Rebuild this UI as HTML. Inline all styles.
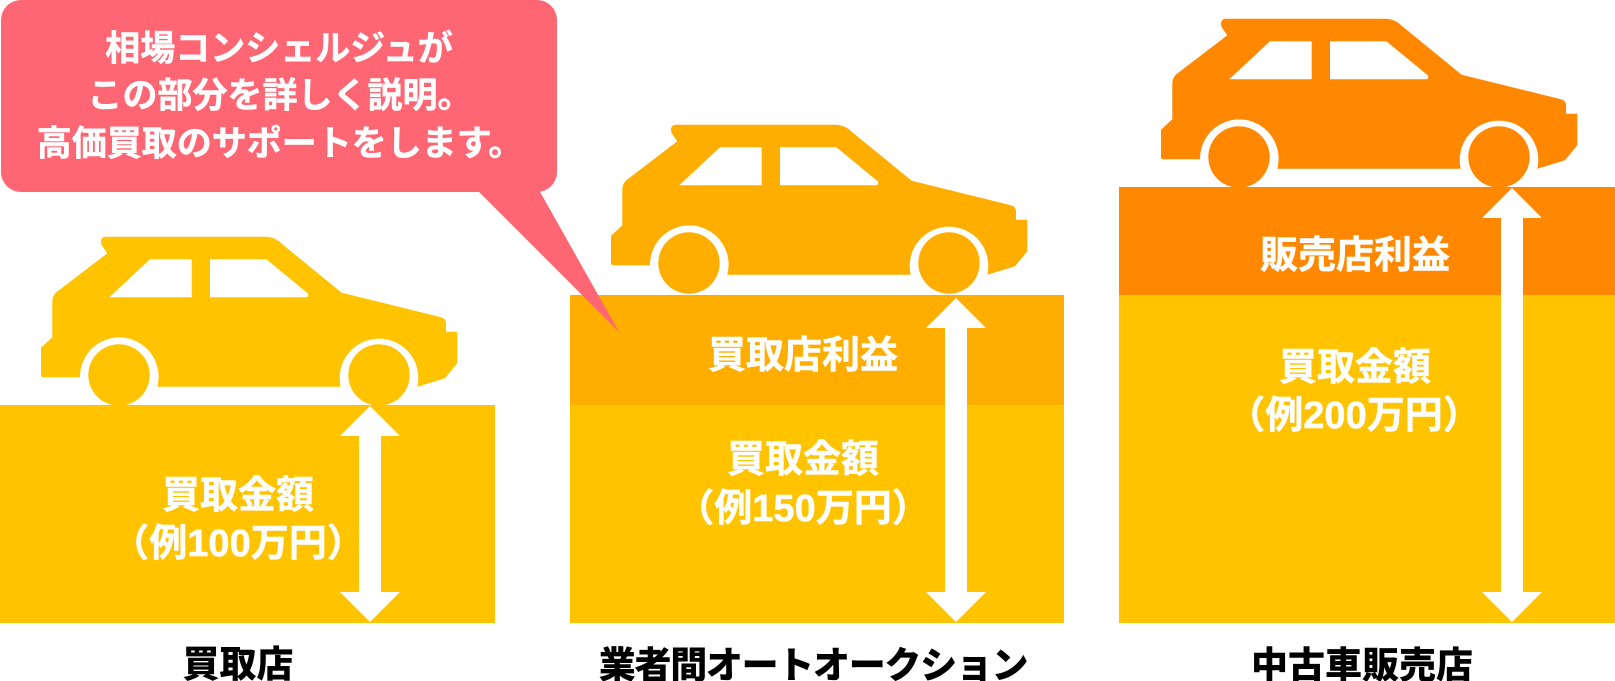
<!DOCTYPE html>
<html>
<head>
<meta charset="utf-8">
<style>
  html, body { margin: 0; padding: 0; background: #ffffff; }
  body { width: 1615px; height: 681px; overflow: hidden; }
  svg { display: block; }
  .w { fill: #ffffff; stroke: #ffffff; stroke-width: 0.5; font-family: "Liberation Sans", "Noto Sans CJK JP", sans-serif; font-weight: 700; }
  .b { fill: #000000; font-family: "Liberation Sans", "Noto Sans CJK JP", sans-serif; font-weight: 900; }
</style>
</head>
<body>
<svg width="1615" height="681" viewBox="0 0 1615 681" xmlns="http://www.w3.org/2000/svg">
  <defs>
    <path id="carbody" d="M106,236.7 L265,236.7 Q275,236.7 282,244 L341.7,292.7 L441,317.3 Q446,318.7 446,323.5 L446,331.7 L457.3,331.7 L457.3,363.3 L445,378.3 L417.3,386.7 A39.3,39.3 0 1 0 340.7,386.7 L157.3,386.7 A39.3,39.3 0 1 0 80,377.3 L43.5,377.3 Q41,377.3 41,375 L41,347.7 L52.3,337.3 L52.3,301.7 Q52.3,294.5 58.3,290.7 L107.3,253.3 L101.5,245 Q99.5,236.7 106,236.7 Z"/>
    <path id="carwin" d="M109.3,297.3 L150,259.3 L191.7,259.3 L191.7,297.3 Z M210,259.3 L265,259.3 Q267,259.3 268.5,261 L308,293.5 Q309,297.3 305.5,297.3 L210,297.3 Z"/>
  </defs>

  <!-- Panel 1 -->
  <rect x="0" y="405" width="495" height="218" fill="#FFC300"/>
  <!-- Panel 2 -->
  <rect x="570" y="295" width="494" height="110" fill="#FFAE00"/>
  <rect x="570" y="405" width="494" height="218" fill="#FFC300"/>
  <!-- Panel 3 -->
  <rect x="1119" y="187" width="496" height="108" fill="#FF8800"/>
  <rect x="1119" y="295" width="496" height="328" fill="#FFC300"/>

  <!-- Car 1 -->
  <g fill="#FFC300">
    <use href="#carbody"/>
    <use href="#carwin" fill="#ffffff"/>
    <circle cx="119" cy="375" r="30.7"/>
    <circle cx="379" cy="375" r="30.7"/>
  </g>
  <!-- Car 2 -->
  <g fill="#FFAE00" transform="translate(570,-112)">
    <use href="#carbody"/>
    <use href="#carwin" fill="#ffffff"/>
    <circle cx="119" cy="375" r="30.7"/>
    <circle cx="379" cy="375" r="30.7"/>
  </g>
  <!-- Car 3 -->
  <g fill="#FF8800" transform="translate(1120,-218)">
    <use href="#carbody"/>
    <use href="#carwin" fill="#ffffff"/>
    <circle cx="119" cy="375" r="30.7"/>
    <circle cx="379" cy="375" r="30.7"/>
  </g>

  <!-- Arrows -->
  <polygon fill="#ffffff" points="370,406 400,436 381,436 381,592 400,592 370,622 340,592 359,592 359,436 340,436"/>
  <polygon fill="#ffffff" points="956,298 986,328 967,328 967,592 986,592 956,622 926,592 945,592 945,328 926,328"/>
  <polygon fill="#ffffff" points="1512,188 1542,218 1523,218 1523,592 1542,592 1512,622 1482,592 1501,592 1501,218 1482,218"/>

  <!-- Panel texts -->
  <g class="w" font-size="38" text-anchor="middle">
    <text x="238" y="508">買取金額</text>
    <text x="238" y="556">（例100万円）</text>
    <text x="803" y="368">買取店利益</text>
    <text x="803" y="472">買取金額</text>
    <text x="803" y="521">（例150万円）</text>
    <text x="1355" y="268">販売店利益</text>
    <text x="1355" y="380">買取金額</text>
    <text x="1354" y="428">（例200万円）</text>
  </g>

  <!-- Bottom labels -->
  <g class="b" font-size="37" text-anchor="middle">
    <text x="238" y="677">買取店</text>
    <text x="813" y="678" letter-spacing="-1.3">業者間オートオークション</text>
    <text x="1362" y="678">中古車販売店</text>
  </g>

  <!-- Speech bubble -->
  <g fill="#FF6673">
    <rect x="1" y="0" width="556" height="192" rx="20" ry="20"/>
    <polygon points="477,190 619,332 539,190"/>
  </g>
  <g class="w" font-size="35" text-anchor="middle">
    <text x="279" y="60.5">相場コンシェルジュが</text>
    <text x="280" y="107.5">この部分を詳しく説明。</text>
    <text x="280" y="155.5">高価買取のサポートをします。</text>
  </g>
</svg>
</body>
</html>
